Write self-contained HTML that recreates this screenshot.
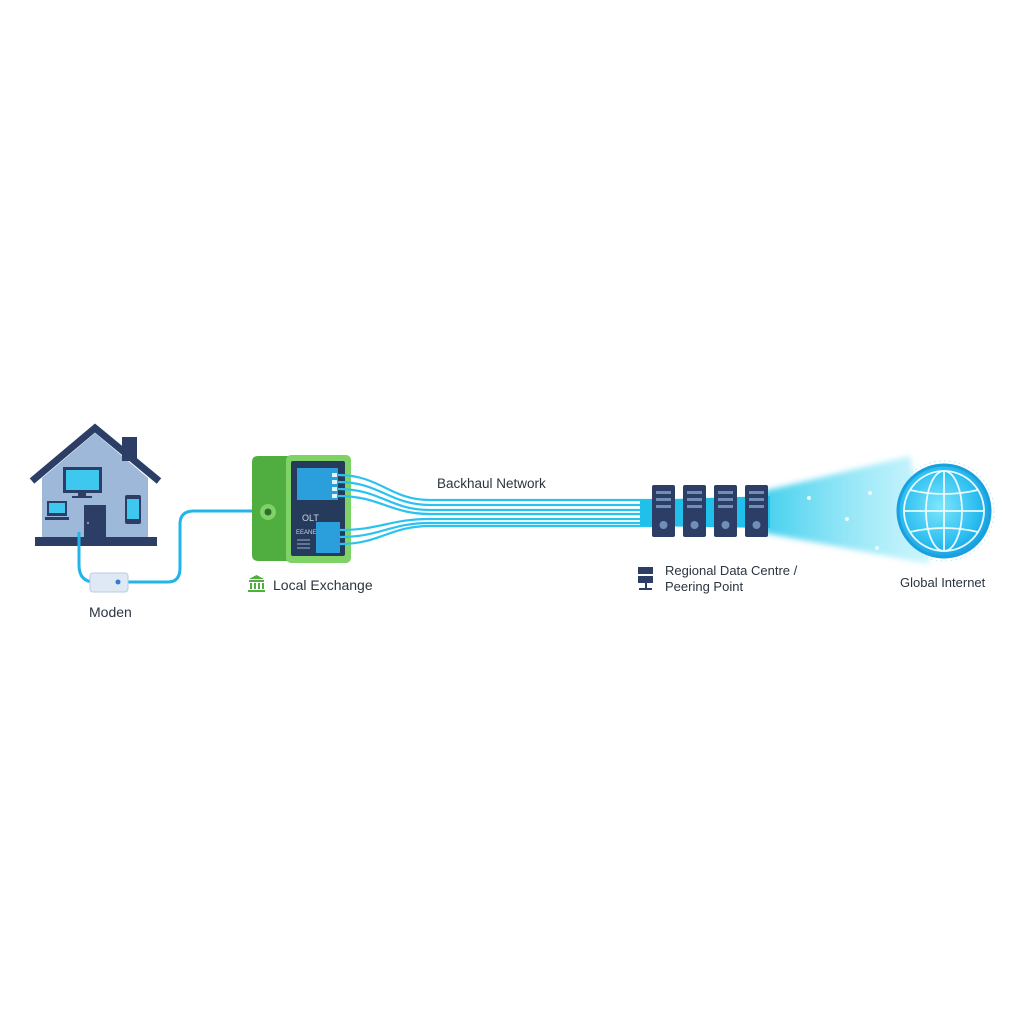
<!DOCTYPE html>
<html><head><meta charset="utf-8"><style>
html,body{margin:0;padding:0;background:#fff}
svg{display:block}
text{font-family:"Liberation Sans",sans-serif;fill:#2b3440}
</style></head><body>
<svg width="1024" height="1024" viewBox="0 0 1024 1024" xmlns="http://www.w3.org/2000/svg">
<defs>
<linearGradient id="beam" x1="0" x2="1" y1="0" y2="0">
<stop offset="0" stop-color="#1fc6ea"/><stop offset="1" stop-color="#8ae8fa" stop-opacity="0.5"/>
</linearGradient>
<linearGradient id="beamv" x1="0" x2="0" y1="0" y2="1">
<stop offset="0" stop-color="#fff" stop-opacity="0.6"/><stop offset="0.4" stop-color="#fff" stop-opacity="0"/><stop offset="0.6" stop-color="#fff" stop-opacity="0"/><stop offset="1" stop-color="#fff" stop-opacity="0.6"/>
</linearGradient>
<radialGradient id="globe" cx="0.45" cy="0.45" r="0.6">
<stop offset="0" stop-color="#7ee6fc"/><stop offset="0.7" stop-color="#2bbdf0"/><stop offset="1" stop-color="#1698dc"/>
</radialGradient>
<filter id="blur"><feGaussianBlur stdDeviation="3"/></filter>
</defs>
<rect width="1024" height="1024" fill="#fff"/>

<!-- house -->
<polygon points="42,478 95,433 148,478 148,540 42,540" fill="#9db8d8"/>
<rect x="122" y="437" width="15" height="24" fill="#2c3e66"/>
<polyline points="32,481 95,428 159,481" fill="none" stroke="#2c3e66" stroke-width="7" stroke-linejoin="miter"/>
<rect x="35" y="537" width="122" height="9" fill="#2c3e66"/>
<rect x="63" y="467" width="39" height="26" fill="#2c3e66"/><rect x="66" y="470" width="33" height="20" fill="#3ec7ef"/>
<rect x="78" y="493" width="8" height="3" fill="#2c3e66"/><rect x="72" y="496" width="20" height="2" fill="#2c3e66"/>
<rect x="47" y="501" width="20" height="15" fill="#2c3e66"/><rect x="49" y="503" width="16" height="10" fill="#3ec7ef"/><rect x="45" y="517" width="24" height="3" fill="#2c3e66"/>
<rect x="125" y="495" width="16" height="29" rx="2" fill="#2c3e66"/><rect x="127" y="499" width="12" height="20" fill="#3ec7ef"/>
<rect x="84" y="505" width="22" height="35" fill="#2c3e66"/><circle cx="88" cy="523" r="1" fill="#9db8d8"/>

<!-- cable -->
<path d="M79,532 L79,565 Q79,582 95,582" fill="none" stroke="#22b5ea" stroke-width="3"/>
<path d="M128,582 L168,582 Q180,582 180,568 L180,524 Q180,511 194,511 L268,511" fill="none" stroke="#22b5ea" stroke-width="3"/>
<rect x="90" y="573" width="38" height="19" rx="3" fill="#dfe9f5" stroke="#b9cbe3"/>
<circle cx="118" cy="582" r="2.5" fill="#2a7fd0"/>
<text x="89" y="617" font-size="14">Moden</text>

<!-- local exchange -->
<path d="M258,456 L290,456 L290,561 L258,561 Q252,561 252,555 L252,462 Q252,456 258,456Z" fill="#4fae3f"/>
<rect x="286" y="455" width="65" height="108" rx="5" fill="#7fd266"/>
<rect x="291" y="461" width="54" height="95" rx="2" fill="#263a5c"/>
<circle cx="268" cy="512" r="8" fill="#7fd266"/><circle cx="268" cy="512" r="3.5" fill="#2e6d2a"/>
<rect x="297" y="468" width="41" height="32" fill="#2a9fdc"/>
<rect x="316" y="522" width="24" height="31" fill="#2a9fdc"/>
<text x="302" y="521" font-size="9" style="fill:#c9d6e8">OLT</text>
<text x="296" y="534" font-size="6" style="fill:#c9d6e8">EEANE</text>
<g stroke="#9fb2cc" stroke-width="1"><line x1="297" y1="540" x2="310" y2="540"/><line x1="297" y1="544" x2="310" y2="544"/><line x1="297" y1="548" x2="310" y2="548"/></g>
<g fill="#4fae3f"><rect x="249" y="580" width="15" height="2"/><rect x="250" y="583" width="2" height="6"/><rect x="254" y="583" width="2" height="6"/><rect x="258" y="583" width="2" height="6"/><rect x="262" y="583" width="2" height="6"/><rect x="248" y="590" width="17" height="2"/><polygon points="249,579 256.5,575 264,579"/></g>
<text x="273" y="590" font-size="14">Local Exchange</text>

<!-- fibers -->
<g fill="none" stroke="#2cc2ef" stroke-width="2.2">
<path d="M338,475 C380,475 390,500 430,500 L652,500"/>
<path d="M338,482 C380,482 390,505 430,505 L652,505"/>
<path d="M338,489 C380,489 390,510 430,510 L652,510"/>
<path d="M338,496 C380,496 390,514 430,514 L652,514"/>
<path d="M340,530 C380,530 390,519 430,519 L652,519"/>
<path d="M340,537 C380,537 390,523 430,523 L652,523"/>
<path d="M340,544 C380,544 390,526 430,526 L652,526"/>
</g>
<g fill="#dff6ff"><rect x="332" y="473" width="5" height="4"/><rect x="332" y="480" width="5" height="4"/><rect x="332" y="487" width="5" height="4"/><rect x="332" y="494" width="5" height="4"/></g>
<text x="437" y="488" font-size="13.5">Backhaul Network</text>

<!-- beam -->
<g filter="url(#blur)">
<polygon points="760,492 910,456 930,564 760,532" fill="url(#beam)" opacity="0.85"/>
</g>
<polygon points="640,500 770,496 770,528 640,526" fill="#20c0ea"/>

<!-- servers -->
<g fill="#2c3e66">
<rect x="652" y="485" width="23" height="52" rx="2"/>
<rect x="683" y="485" width="23" height="52" rx="2"/>
<rect x="714" y="485" width="23" height="52" rx="2"/>
<rect x="745" y="485" width="23" height="52" rx="2"/>
</g>
<g fill="#6f8fb8">
<rect x="656" y="491" width="15" height="3"/><rect x="656" y="498" width="15" height="3"/><rect x="656" y="505" width="15" height="3"/><circle cx="663.5" cy="525" r="4"/>
<rect x="687" y="491" width="15" height="3"/><rect x="687" y="498" width="15" height="3"/><rect x="687" y="505" width="15" height="3"/><circle cx="694.5" cy="525" r="4"/>
<rect x="718" y="491" width="15" height="3"/><rect x="718" y="498" width="15" height="3"/><rect x="718" y="505" width="15" height="3"/><circle cx="725.5" cy="525" r="4"/>
<rect x="749" y="491" width="15" height="3"/><rect x="749" y="498" width="15" height="3"/><rect x="749" y="505" width="15" height="3"/><circle cx="756.5" cy="525" r="4"/>
</g>
<g fill="#2c3e66"><rect x="638" y="567" width="15" height="7"/><rect x="638" y="576" width="15" height="7"/><rect x="645" y="583" width="2" height="5"/><rect x="639" y="588" width="13" height="2"/></g>
<text x="665" y="575" font-size="13">Regional Data Centre /</text>
<text x="665" y="591" font-size="13">Peering Point</text>

<!-- globe -->
<circle cx="944" cy="511" r="46" fill="url(#globe)" stroke="#1aa0dc" stroke-width="3"/>
<g fill="none" stroke="#e8fbff" stroke-width="1.8">
<circle cx="944" cy="511" r="40"/>
<ellipse cx="944" cy="511" rx="18" ry="40"/>
<line x1="944" y1="471" x2="944" y2="551"/>
<line x1="904" y1="511" x2="984" y2="511"/>
<path d="M910,490 Q944,498 978,490"/><path d="M910,532 Q944,524 978,532"/>
</g>
<circle cx="944" cy="511" r="50" fill="none" stroke="#bfeefb" stroke-width="1" stroke-dasharray="2 3"/>
<g fill="#e8fbff"><circle cx="809" cy="498" r="2"/><circle cx="870" cy="493" r="2"/><circle cx="847" cy="519" r="2"/><circle cx="877" cy="548" r="2"/></g>
<text x="900" y="587" font-size="13">Global Internet</text>
</svg>
</body></html>
